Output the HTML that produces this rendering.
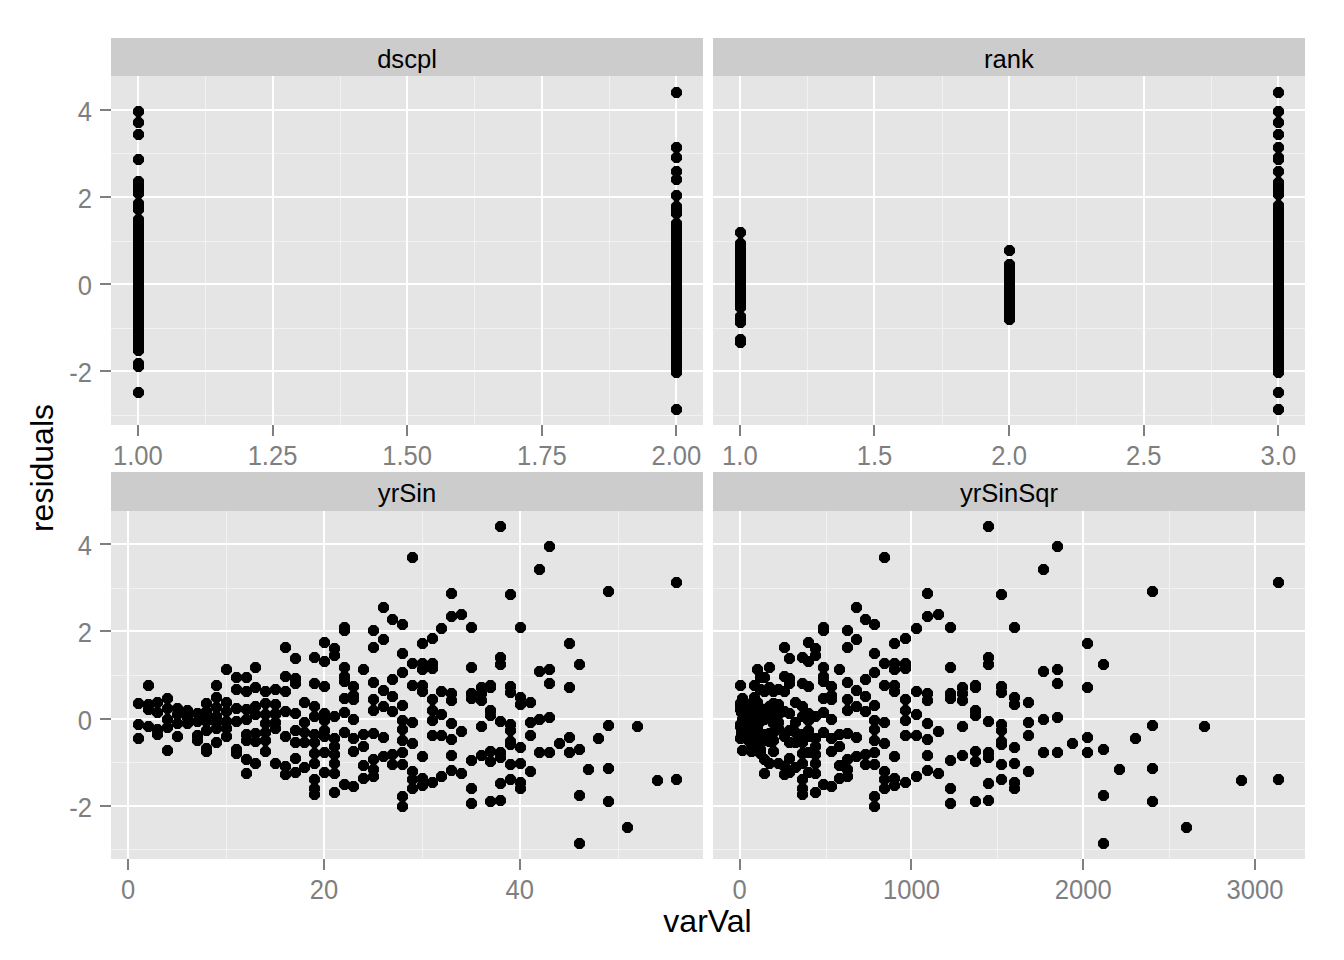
<!DOCTYPE html>
<html><head><meta charset="utf-8"><style>
html,body{margin:0;padding:0;background:#fff;width:1344px;height:960px;overflow:hidden}
svg text{font-family:"Liberation Sans",sans-serif}
</style></head><body>
<svg width="1344" height="960" viewBox="0 0 1344 960" style="display:block" shape-rendering="crispEdges"><defs><polygon id="o" points="5.500,2.278 2.278,5.500 -2.278,5.500 -5.500,2.278 -5.500,-2.278 -2.278,-5.500 2.278,-5.500 5.500,-2.278" shape-rendering="auto"/></defs><rect x="111" y="38" width="592" height="38" fill="#cccccc"/><text x="407.0" y="67.6" font-size="25.6" text-anchor="middle" fill="#000" shape-rendering="auto">dscpl</text><rect x="111" y="76" width="592" height="349" fill="#e5e5e5"/><rect x="111" y="415" width="592" height="1" fill="#f2f2f2"/><rect x="111" y="328" width="592" height="1" fill="#f2f2f2"/><rect x="111" y="241" width="592" height="1" fill="#f2f2f2"/><rect x="111" y="153" width="592" height="1" fill="#f2f2f2"/><rect x="205" y="76" width="1" height="349" fill="#f2f2f2"/><rect x="340" y="76" width="1" height="349" fill="#f2f2f2"/><rect x="474" y="76" width="1" height="349" fill="#f2f2f2"/><rect x="609" y="76" width="1" height="349" fill="#f2f2f2"/><rect x="111" y="370" width="592" height="2" fill="#fff"/><rect x="111" y="283" width="592" height="2" fill="#fff"/><rect x="111" y="196" width="592" height="2" fill="#fff"/><rect x="111" y="109" width="592" height="2" fill="#fff"/><rect x="137" y="76" width="2" height="349" fill="#fff"/><rect x="272" y="76" width="2" height="349" fill="#fff"/><rect x="406" y="76" width="2" height="349" fill="#fff"/><rect x="541" y="76" width="2" height="349" fill="#fff"/><rect x="675" y="76" width="2" height="349" fill="#fff"/><rect x="137" y="425" width="2" height="11" fill="#7f7f7f"/><text transform="translate(137.92 465.3) scale(0.955 1)" font-size="26.8" text-anchor="middle" fill="#7f7f7f">1.00</text><rect x="272" y="425" width="2" height="11" fill="#7f7f7f"/><text transform="translate(272.54 465.3) scale(0.955 1)" font-size="26.8" text-anchor="middle" fill="#7f7f7f">1.25</text><rect x="406" y="425" width="2" height="11" fill="#7f7f7f"/><text transform="translate(407.17 465.3) scale(0.955 1)" font-size="26.8" text-anchor="middle" fill="#7f7f7f">1.50</text><rect x="541" y="425" width="2" height="11" fill="#7f7f7f"/><text transform="translate(541.80 465.3) scale(0.955 1)" font-size="26.8" text-anchor="middle" fill="#7f7f7f">1.75</text><rect x="675" y="425" width="2" height="11" fill="#7f7f7f"/><text transform="translate(676.42 465.3) scale(0.955 1)" font-size="26.8" text-anchor="middle" fill="#7f7f7f">2.00</text><rect x="100" y="370" width="11" height="2" fill="#7f7f7f"/><text transform="translate(91.9 381.90) scale(0.955 1)" font-size="26.8" text-anchor="end" fill="#7f7f7f">-2</text><rect x="100" y="283" width="11" height="2" fill="#7f7f7f"/><text transform="translate(91.9 294.90) scale(0.955 1)" font-size="26.8" text-anchor="end" fill="#7f7f7f">0</text><rect x="100" y="196" width="11" height="2" fill="#7f7f7f"/><text transform="translate(91.9 207.90) scale(0.955 1)" font-size="26.8" text-anchor="end" fill="#7f7f7f">2</text><rect x="100" y="109" width="11" height="2" fill="#7f7f7f"/><text transform="translate(91.9 120.90) scale(0.955 1)" font-size="26.8" text-anchor="end" fill="#7f7f7f">4</text><rect x="713" y="38" width="592" height="38" fill="#cccccc"/><text x="1009.0" y="67.6" font-size="25.6" text-anchor="middle" fill="#000" shape-rendering="auto">rank</text><rect x="713" y="76" width="592" height="349" fill="#e5e5e5"/><rect x="713" y="415" width="592" height="1" fill="#f2f2f2"/><rect x="713" y="328" width="592" height="1" fill="#f2f2f2"/><rect x="713" y="241" width="592" height="1" fill="#f2f2f2"/><rect x="713" y="153" width="592" height="1" fill="#f2f2f2"/><rect x="807" y="76" width="1" height="349" fill="#f2f2f2"/><rect x="942" y="76" width="1" height="349" fill="#f2f2f2"/><rect x="1076" y="76" width="1" height="349" fill="#f2f2f2"/><rect x="1211" y="76" width="1" height="349" fill="#f2f2f2"/><rect x="713" y="370" width="592" height="2" fill="#fff"/><rect x="713" y="283" width="592" height="2" fill="#fff"/><rect x="713" y="196" width="592" height="2" fill="#fff"/><rect x="713" y="109" width="592" height="2" fill="#fff"/><rect x="739" y="76" width="2" height="349" fill="#fff"/><rect x="873" y="76" width="2" height="349" fill="#fff"/><rect x="1008" y="76" width="2" height="349" fill="#fff"/><rect x="1143" y="76" width="2" height="349" fill="#fff"/><rect x="1277" y="76" width="2" height="349" fill="#fff"/><rect x="739" y="425" width="2" height="11" fill="#7f7f7f"/><text transform="translate(739.83 465.3) scale(0.955 1)" font-size="26.8" text-anchor="middle" fill="#7f7f7f">1.0</text><rect x="873" y="425" width="2" height="11" fill="#7f7f7f"/><text transform="translate(874.45 465.3) scale(0.955 1)" font-size="26.8" text-anchor="middle" fill="#7f7f7f">1.5</text><rect x="1008" y="425" width="2" height="11" fill="#7f7f7f"/><text transform="translate(1009.08 465.3) scale(0.955 1)" font-size="26.8" text-anchor="middle" fill="#7f7f7f">2.0</text><rect x="1143" y="425" width="2" height="11" fill="#7f7f7f"/><text transform="translate(1143.71 465.3) scale(0.955 1)" font-size="26.8" text-anchor="middle" fill="#7f7f7f">2.5</text><rect x="1277" y="425" width="2" height="11" fill="#7f7f7f"/><text transform="translate(1278.33 465.3) scale(0.955 1)" font-size="26.8" text-anchor="middle" fill="#7f7f7f">3.0</text><rect x="111" y="472" width="592" height="39" fill="#cccccc"/><text x="407.0" y="501.6" font-size="25.6" text-anchor="middle" fill="#000" shape-rendering="auto">yrSin</text><rect x="111" y="511" width="592" height="348" fill="#e5e5e5"/><rect x="111" y="849" width="592" height="1" fill="#f2f2f2"/><rect x="111" y="762" width="592" height="1" fill="#f2f2f2"/><rect x="111" y="675" width="592" height="1" fill="#f2f2f2"/><rect x="111" y="588" width="592" height="1" fill="#f2f2f2"/><rect x="226" y="511" width="1" height="348" fill="#f2f2f2"/><rect x="422" y="511" width="1" height="348" fill="#f2f2f2"/><rect x="618" y="511" width="1" height="348" fill="#f2f2f2"/><rect x="111" y="805" width="592" height="2" fill="#fff"/><rect x="111" y="718" width="592" height="2" fill="#fff"/><rect x="111" y="630" width="592" height="2" fill="#fff"/><rect x="111" y="543" width="592" height="2" fill="#fff"/><rect x="127" y="511" width="2" height="348" fill="#fff"/><rect x="323" y="511" width="2" height="348" fill="#fff"/><rect x="519" y="511" width="2" height="348" fill="#fff"/><rect x="127" y="859" width="2" height="11" fill="#7f7f7f"/><text transform="translate(128.12 899.3) scale(0.955 1)" font-size="26.8" text-anchor="middle" fill="#7f7f7f">0</text><rect x="323" y="859" width="2" height="11" fill="#7f7f7f"/><text transform="translate(323.95 899.3) scale(0.955 1)" font-size="26.8" text-anchor="middle" fill="#7f7f7f">20</text><rect x="519" y="859" width="2" height="11" fill="#7f7f7f"/><text transform="translate(519.77 899.3) scale(0.955 1)" font-size="26.8" text-anchor="middle" fill="#7f7f7f">40</text><rect x="100" y="805" width="11" height="2" fill="#7f7f7f"/><text transform="translate(91.9 816.90) scale(0.955 1)" font-size="26.8" text-anchor="end" fill="#7f7f7f">-2</text><rect x="100" y="718" width="11" height="2" fill="#7f7f7f"/><text transform="translate(91.9 729.90) scale(0.955 1)" font-size="26.8" text-anchor="end" fill="#7f7f7f">0</text><rect x="100" y="630" width="11" height="2" fill="#7f7f7f"/><text transform="translate(91.9 641.90) scale(0.955 1)" font-size="26.8" text-anchor="end" fill="#7f7f7f">2</text><rect x="100" y="543" width="11" height="2" fill="#7f7f7f"/><text transform="translate(91.9 554.90) scale(0.955 1)" font-size="26.8" text-anchor="end" fill="#7f7f7f">4</text><rect x="713" y="472" width="592" height="39" fill="#cccccc"/><text x="1009.0" y="501.6" font-size="25.6" text-anchor="middle" fill="#000" shape-rendering="auto">yrSinSqr</text><rect x="713" y="511" width="592" height="348" fill="#e5e5e5"/><rect x="713" y="849" width="592" height="1" fill="#f2f2f2"/><rect x="713" y="762" width="592" height="1" fill="#f2f2f2"/><rect x="713" y="675" width="592" height="1" fill="#f2f2f2"/><rect x="713" y="588" width="592" height="1" fill="#f2f2f2"/><rect x="826" y="511" width="1" height="348" fill="#f2f2f2"/><rect x="997" y="511" width="1" height="348" fill="#f2f2f2"/><rect x="1169" y="511" width="1" height="348" fill="#f2f2f2"/><rect x="713" y="805" width="592" height="2" fill="#fff"/><rect x="713" y="718" width="592" height="2" fill="#fff"/><rect x="713" y="630" width="592" height="2" fill="#fff"/><rect x="713" y="543" width="592" height="2" fill="#fff"/><rect x="739" y="511" width="2" height="348" fill="#fff"/><rect x="910" y="511" width="2" height="348" fill="#fff"/><rect x="1082" y="511" width="2" height="348" fill="#fff"/><rect x="1254" y="511" width="2" height="348" fill="#fff"/><rect x="739" y="859" width="2" height="11" fill="#7f7f7f"/><text transform="translate(739.65 899.3) scale(0.955 1)" font-size="26.8" text-anchor="middle" fill="#7f7f7f">0</text><rect x="910" y="859" width="2" height="11" fill="#7f7f7f"/><text transform="translate(911.43 899.3) scale(0.955 1)" font-size="26.8" text-anchor="middle" fill="#7f7f7f">1000</text><rect x="1082" y="859" width="2" height="11" fill="#7f7f7f"/><text transform="translate(1083.20 899.3) scale(0.955 1)" font-size="26.8" text-anchor="middle" fill="#7f7f7f">2000</text><rect x="1254" y="859" width="2" height="11" fill="#7f7f7f"/><text transform="translate(1254.97 899.3) scale(0.955 1)" font-size="26.8" text-anchor="middle" fill="#7f7f7f">3000</text><g fill="#000"><use href="#o" x="138.5" y="703.5"/><use href="#o" x="740.5" y="703.5"/><use href="#o" x="148.5" y="685.5"/><use href="#o" x="740.5" y="685.5"/><use href="#o" x="148.5" y="704.5"/><use href="#o" x="740.5" y="704.5"/><use href="#o" x="216.5" y="685.5"/><use href="#o" x="754.5" y="685.5"/><use href="#o" x="216.5" y="697.5"/><use href="#o" x="754.5" y="697.5"/><use href="#o" x="226.5" y="669.5"/><use href="#o" x="757.5" y="669.5"/><use href="#o" x="236.5" y="677.5"/><use href="#o" x="760.5" y="677.5"/><use href="#o" x="246.5" y="677.5"/><use href="#o" x="764.5" y="677.5"/><use href="#o" x="236.5" y="689.5"/><use href="#o" x="760.5" y="689.5"/><use href="#o" x="246.5" y="691.5"/><use href="#o" x="764.5" y="691.5"/><use href="#o" x="255.5" y="667.5"/><use href="#o" x="769.5" y="667.5"/><use href="#o" x="255.5" y="687.5"/><use href="#o" x="769.5" y="687.5"/><use href="#o" x="265.5" y="691.5"/><use href="#o" x="773.5" y="691.5"/><use href="#o" x="275.5" y="689.5"/><use href="#o" x="778.5" y="689.5"/><use href="#o" x="285.5" y="647.5"/><use href="#o" x="784.5" y="647.5"/><use href="#o" x="285.5" y="676.5"/><use href="#o" x="784.5" y="676.5"/><use href="#o" x="285.5" y="691.5"/><use href="#o" x="784.5" y="691.5"/><use href="#o" x="295.5" y="658.5"/><use href="#o" x="789.5" y="658.5"/><use href="#o" x="295.5" y="678.5"/><use href="#o" x="789.5" y="678.5"/><use href="#o" x="295.5" y="683.5"/><use href="#o" x="789.5" y="683.5"/><use href="#o" x="314.5" y="657.5"/><use href="#o" x="802.5" y="657.5"/><use href="#o" x="314.5" y="683.5"/><use href="#o" x="802.5" y="683.5"/><use href="#o" x="324.5" y="642.5"/><use href="#o" x="808.5" y="642.5"/><use href="#o" x="324.5" y="661.5"/><use href="#o" x="808.5" y="661.5"/><use href="#o" x="324.5" y="686.5"/><use href="#o" x="808.5" y="686.5"/><use href="#o" x="334.5" y="648.5"/><use href="#o" x="815.5" y="648.5"/><use href="#o" x="334.5" y="655.5"/><use href="#o" x="815.5" y="655.5"/><use href="#o" x="344.5" y="627.5"/><use href="#o" x="823.5" y="627.5"/><use href="#o" x="344.5" y="630.5"/><use href="#o" x="823.5" y="630.5"/><use href="#o" x="344.5" y="667.5"/><use href="#o" x="823.5" y="667.5"/><use href="#o" x="344.5" y="676.5"/><use href="#o" x="823.5" y="676.5"/><use href="#o" x="344.5" y="681.5"/><use href="#o" x="823.5" y="681.5"/><use href="#o" x="353.5" y="686.5"/><use href="#o" x="831.5" y="686.5"/><use href="#o" x="363.5" y="669.5"/><use href="#o" x="839.5" y="669.5"/><use href="#o" x="373.5" y="630.5"/><use href="#o" x="847.5" y="630.5"/><use href="#o" x="373.5" y="647.5"/><use href="#o" x="847.5" y="647.5"/><use href="#o" x="373.5" y="682.5"/><use href="#o" x="847.5" y="682.5"/><use href="#o" x="383.5" y="607.5"/><use href="#o" x="856.5" y="607.5"/><use href="#o" x="383.5" y="639.5"/><use href="#o" x="856.5" y="639.5"/><use href="#o" x="383.5" y="690.5"/><use href="#o" x="856.5" y="690.5"/><use href="#o" x="392.5" y="619.5"/><use href="#o" x="865.5" y="619.5"/><use href="#o" x="392.5" y="679.5"/><use href="#o" x="865.5" y="679.5"/><use href="#o" x="402.5" y="624.5"/><use href="#o" x="874.5" y="624.5"/><use href="#o" x="402.5" y="653.5"/><use href="#o" x="874.5" y="653.5"/><use href="#o" x="402.5" y="672.5"/><use href="#o" x="874.5" y="672.5"/><use href="#o" x="138.5" y="724.5"/><use href="#o" x="740.5" y="724.5"/><use href="#o" x="138.5" y="738.5"/><use href="#o" x="740.5" y="738.5"/><use href="#o" x="148.5" y="709.5"/><use href="#o" x="740.5" y="709.5"/><use href="#o" x="148.5" y="726.5"/><use href="#o" x="740.5" y="726.5"/><use href="#o" x="157.5" y="702.5"/><use href="#o" x="741.5" y="702.5"/><use href="#o" x="157.5" y="712.5"/><use href="#o" x="741.5" y="712.5"/><use href="#o" x="157.5" y="734.5"/><use href="#o" x="741.5" y="734.5"/><use href="#o" x="167.5" y="698.5"/><use href="#o" x="742.5" y="698.5"/><use href="#o" x="167.5" y="708.5"/><use href="#o" x="742.5" y="708.5"/><use href="#o" x="167.5" y="719.5"/><use href="#o" x="742.5" y="719.5"/><use href="#o" x="167.5" y="727.5"/><use href="#o" x="742.5" y="727.5"/><use href="#o" x="167.5" y="750.5"/><use href="#o" x="742.5" y="750.5"/><use href="#o" x="177.5" y="708.5"/><use href="#o" x="744.5" y="708.5"/><use href="#o" x="177.5" y="723.5"/><use href="#o" x="744.5" y="723.5"/><use href="#o" x="177.5" y="736.5"/><use href="#o" x="744.5" y="736.5"/><use href="#o" x="187.5" y="710.5"/><use href="#o" x="746.5" y="710.5"/><use href="#o" x="187.5" y="723.5"/><use href="#o" x="746.5" y="723.5"/><use href="#o" x="197.5" y="713.5"/><use href="#o" x="748.5" y="713.5"/><use href="#o" x="197.5" y="721.5"/><use href="#o" x="748.5" y="721.5"/><use href="#o" x="197.5" y="735.5"/><use href="#o" x="748.5" y="735.5"/><use href="#o" x="197.5" y="740.5"/><use href="#o" x="748.5" y="740.5"/><use href="#o" x="206.5" y="703.5"/><use href="#o" x="751.5" y="703.5"/><use href="#o" x="206.5" y="711.5"/><use href="#o" x="751.5" y="711.5"/><use href="#o" x="206.5" y="721.5"/><use href="#o" x="751.5" y="721.5"/><use href="#o" x="206.5" y="730.5"/><use href="#o" x="751.5" y="730.5"/><use href="#o" x="206.5" y="748.5"/><use href="#o" x="751.5" y="748.5"/><use href="#o" x="216.5" y="707.5"/><use href="#o" x="754.5" y="707.5"/><use href="#o" x="216.5" y="716.5"/><use href="#o" x="754.5" y="716.5"/><use href="#o" x="216.5" y="728.5"/><use href="#o" x="754.5" y="728.5"/><use href="#o" x="216.5" y="742.5"/><use href="#o" x="754.5" y="742.5"/><use href="#o" x="226.5" y="702.5"/><use href="#o" x="757.5" y="702.5"/><use href="#o" x="226.5" y="711.5"/><use href="#o" x="757.5" y="711.5"/><use href="#o" x="226.5" y="721.5"/><use href="#o" x="757.5" y="721.5"/><use href="#o" x="226.5" y="728.5"/><use href="#o" x="757.5" y="728.5"/><use href="#o" x="226.5" y="736.5"/><use href="#o" x="757.5" y="736.5"/><use href="#o" x="236.5" y="708.5"/><use href="#o" x="760.5" y="708.5"/><use href="#o" x="236.5" y="721.5"/><use href="#o" x="760.5" y="721.5"/><use href="#o" x="236.5" y="749.5"/><use href="#o" x="760.5" y="749.5"/><use href="#o" x="236.5" y="753.5"/><use href="#o" x="760.5" y="753.5"/><use href="#o" x="246.5" y="709.5"/><use href="#o" x="764.5" y="709.5"/><use href="#o" x="246.5" y="719.5"/><use href="#o" x="764.5" y="719.5"/><use href="#o" x="246.5" y="734.5"/><use href="#o" x="764.5" y="734.5"/><use href="#o" x="246.5" y="740.5"/><use href="#o" x="764.5" y="740.5"/><use href="#o" x="246.5" y="759.5"/><use href="#o" x="764.5" y="759.5"/><use href="#o" x="246.5" y="773.5"/><use href="#o" x="764.5" y="773.5"/><use href="#o" x="255.5" y="706.5"/><use href="#o" x="769.5" y="706.5"/><use href="#o" x="255.5" y="714.5"/><use href="#o" x="769.5" y="714.5"/><use href="#o" x="255.5" y="733.5"/><use href="#o" x="769.5" y="733.5"/><use href="#o" x="255.5" y="741.5"/><use href="#o" x="769.5" y="741.5"/><use href="#o" x="255.5" y="763.5"/><use href="#o" x="769.5" y="763.5"/><use href="#o" x="265.5" y="703.5"/><use href="#o" x="773.5" y="703.5"/><use href="#o" x="265.5" y="714.5"/><use href="#o" x="773.5" y="714.5"/><use href="#o" x="265.5" y="723.5"/><use href="#o" x="773.5" y="723.5"/><use href="#o" x="265.5" y="732.5"/><use href="#o" x="773.5" y="732.5"/><use href="#o" x="265.5" y="740.5"/><use href="#o" x="773.5" y="740.5"/><use href="#o" x="265.5" y="751.5"/><use href="#o" x="773.5" y="751.5"/><use href="#o" x="275.5" y="704.5"/><use href="#o" x="778.5" y="704.5"/><use href="#o" x="275.5" y="713.5"/><use href="#o" x="778.5" y="713.5"/><use href="#o" x="275.5" y="728.5"/><use href="#o" x="778.5" y="728.5"/><use href="#o" x="275.5" y="763.5"/><use href="#o" x="778.5" y="763.5"/><use href="#o" x="285.5" y="711.5"/><use href="#o" x="784.5" y="711.5"/><use href="#o" x="285.5" y="736.5"/><use href="#o" x="784.5" y="736.5"/><use href="#o" x="285.5" y="766.5"/><use href="#o" x="784.5" y="766.5"/><use href="#o" x="285.5" y="774.5"/><use href="#o" x="784.5" y="774.5"/><use href="#o" x="295.5" y="713.5"/><use href="#o" x="789.5" y="713.5"/><use href="#o" x="295.5" y="730.5"/><use href="#o" x="789.5" y="730.5"/><use href="#o" x="295.5" y="742.5"/><use href="#o" x="789.5" y="742.5"/><use href="#o" x="295.5" y="758.5"/><use href="#o" x="789.5" y="758.5"/><use href="#o" x="295.5" y="772.5"/><use href="#o" x="789.5" y="772.5"/><use href="#o" x="304.5" y="702.5"/><use href="#o" x="795.5" y="702.5"/><use href="#o" x="304.5" y="722.5"/><use href="#o" x="795.5" y="722.5"/><use href="#o" x="304.5" y="732.5"/><use href="#o" x="795.5" y="732.5"/><use href="#o" x="304.5" y="742.5"/><use href="#o" x="795.5" y="742.5"/><use href="#o" x="304.5" y="767.5"/><use href="#o" x="795.5" y="767.5"/><use href="#o" x="314.5" y="706.5"/><use href="#o" x="802.5" y="706.5"/><use href="#o" x="314.5" y="716.5"/><use href="#o" x="802.5" y="716.5"/><use href="#o" x="314.5" y="734.5"/><use href="#o" x="802.5" y="734.5"/><use href="#o" x="314.5" y="742.5"/><use href="#o" x="802.5" y="742.5"/><use href="#o" x="314.5" y="753.5"/><use href="#o" x="802.5" y="753.5"/><use href="#o" x="314.5" y="763.5"/><use href="#o" x="802.5" y="763.5"/><use href="#o" x="314.5" y="779.5"/><use href="#o" x="802.5" y="779.5"/><use href="#o" x="324.5" y="713.5"/><use href="#o" x="808.5" y="713.5"/><use href="#o" x="324.5" y="720.5"/><use href="#o" x="808.5" y="720.5"/><use href="#o" x="324.5" y="730.5"/><use href="#o" x="808.5" y="730.5"/><use href="#o" x="324.5" y="736.5"/><use href="#o" x="808.5" y="736.5"/><use href="#o" x="324.5" y="752.5"/><use href="#o" x="808.5" y="752.5"/><use href="#o" x="324.5" y="772.5"/><use href="#o" x="808.5" y="772.5"/><use href="#o" x="334.5" y="716.5"/><use href="#o" x="815.5" y="716.5"/><use href="#o" x="334.5" y="738.5"/><use href="#o" x="815.5" y="738.5"/><use href="#o" x="334.5" y="746.5"/><use href="#o" x="815.5" y="746.5"/><use href="#o" x="334.5" y="754.5"/><use href="#o" x="815.5" y="754.5"/><use href="#o" x="334.5" y="763.5"/><use href="#o" x="815.5" y="763.5"/><use href="#o" x="334.5" y="773.5"/><use href="#o" x="815.5" y="773.5"/><use href="#o" x="344.5" y="698.5"/><use href="#o" x="823.5" y="698.5"/><use href="#o" x="344.5" y="712.5"/><use href="#o" x="823.5" y="712.5"/><use href="#o" x="344.5" y="732.5"/><use href="#o" x="823.5" y="732.5"/><use href="#o" x="353.5" y="695.5"/><use href="#o" x="831.5" y="695.5"/><use href="#o" x="353.5" y="699.5"/><use href="#o" x="831.5" y="699.5"/><use href="#o" x="353.5" y="719.5"/><use href="#o" x="831.5" y="719.5"/><use href="#o" x="353.5" y="738.5"/><use href="#o" x="831.5" y="738.5"/><use href="#o" x="353.5" y="751.5"/><use href="#o" x="831.5" y="751.5"/><use href="#o" x="363.5" y="734.5"/><use href="#o" x="839.5" y="734.5"/><use href="#o" x="363.5" y="746.5"/><use href="#o" x="839.5" y="746.5"/><use href="#o" x="363.5" y="765.5"/><use href="#o" x="839.5" y="765.5"/><use href="#o" x="363.5" y="778.5"/><use href="#o" x="839.5" y="778.5"/><use href="#o" x="373.5" y="699.5"/><use href="#o" x="847.5" y="699.5"/><use href="#o" x="373.5" y="710.5"/><use href="#o" x="847.5" y="710.5"/><use href="#o" x="373.5" y="733.5"/><use href="#o" x="847.5" y="733.5"/><use href="#o" x="373.5" y="759.5"/><use href="#o" x="847.5" y="759.5"/><use href="#o" x="373.5" y="769.5"/><use href="#o" x="847.5" y="769.5"/><use href="#o" x="373.5" y="776.5"/><use href="#o" x="847.5" y="776.5"/><use href="#o" x="383.5" y="706.5"/><use href="#o" x="856.5" y="706.5"/><use href="#o" x="383.5" y="737.5"/><use href="#o" x="856.5" y="737.5"/><use href="#o" x="383.5" y="756.5"/><use href="#o" x="856.5" y="756.5"/><use href="#o" x="392.5" y="696.5"/><use href="#o" x="865.5" y="696.5"/><use href="#o" x="392.5" y="711.5"/><use href="#o" x="865.5" y="711.5"/><use href="#o" x="392.5" y="754.5"/><use href="#o" x="865.5" y="754.5"/><use href="#o" x="392.5" y="764.5"/><use href="#o" x="865.5" y="764.5"/><use href="#o" x="314.5" y="788.5"/><use href="#o" x="802.5" y="788.5"/><use href="#o" x="314.5" y="794.5"/><use href="#o" x="802.5" y="794.5"/><use href="#o" x="334.5" y="792.5"/><use href="#o" x="815.5" y="792.5"/><use href="#o" x="344.5" y="784.5"/><use href="#o" x="823.5" y="784.5"/><use href="#o" x="353.5" y="786.5"/><use href="#o" x="831.5" y="786.5"/><use href="#o" x="402.5" y="764.5"/><use href="#o" x="874.5" y="764.5"/><use href="#o" x="402.5" y="796.5"/><use href="#o" x="874.5" y="796.5"/><use href="#o" x="402.5" y="806.5"/><use href="#o" x="874.5" y="806.5"/><use href="#o" x="500.5" y="526.5"/><use href="#o" x="988.5" y="526.5"/><use href="#o" x="412.5" y="557.5"/><use href="#o" x="884.5" y="557.5"/><use href="#o" x="549.5" y="546.5"/><use href="#o" x="1057.5" y="546.5"/><use href="#o" x="539.5" y="569.5"/><use href="#o" x="1043.5" y="569.5"/><use href="#o" x="451.5" y="593.5"/><use href="#o" x="927.5" y="593.5"/><use href="#o" x="510.5" y="594.5"/><use href="#o" x="1001.5" y="594.5"/><use href="#o" x="608.5" y="591.5"/><use href="#o" x="1152.5" y="591.5"/><use href="#o" x="676.5" y="582.5"/><use href="#o" x="1278.5" y="582.5"/><use href="#o" x="451.5" y="616.5"/><use href="#o" x="927.5" y="616.5"/><use href="#o" x="461.5" y="614.5"/><use href="#o" x="938.5" y="614.5"/><use href="#o" x="441.5" y="628.5"/><use href="#o" x="916.5" y="628.5"/><use href="#o" x="471.5" y="627.5"/><use href="#o" x="950.5" y="627.5"/><use href="#o" x="520.5" y="627.5"/><use href="#o" x="1014.5" y="627.5"/><use href="#o" x="432.5" y="638.5"/><use href="#o" x="905.5" y="638.5"/><use href="#o" x="422.5" y="643.5"/><use href="#o" x="894.5" y="643.5"/><use href="#o" x="569.5" y="643.5"/><use href="#o" x="1087.5" y="643.5"/><use href="#o" x="412.5" y="663.5"/><use href="#o" x="884.5" y="663.5"/><use href="#o" x="422.5" y="663.5"/><use href="#o" x="894.5" y="663.5"/><use href="#o" x="422.5" y="669.5"/><use href="#o" x="894.5" y="669.5"/><use href="#o" x="432.5" y="663.5"/><use href="#o" x="905.5" y="663.5"/><use href="#o" x="432.5" y="668.5"/><use href="#o" x="905.5" y="668.5"/><use href="#o" x="471.5" y="667.5"/><use href="#o" x="950.5" y="667.5"/><use href="#o" x="500.5" y="657.5"/><use href="#o" x="988.5" y="657.5"/><use href="#o" x="500.5" y="664.5"/><use href="#o" x="988.5" y="664.5"/><use href="#o" x="539.5" y="671.5"/><use href="#o" x="1043.5" y="671.5"/><use href="#o" x="549.5" y="669.5"/><use href="#o" x="1057.5" y="669.5"/><use href="#o" x="579.5" y="664.5"/><use href="#o" x="1103.5" y="664.5"/><use href="#o" x="412.5" y="685.5"/><use href="#o" x="884.5" y="685.5"/><use href="#o" x="422.5" y="685.5"/><use href="#o" x="894.5" y="685.5"/><use href="#o" x="422.5" y="691.5"/><use href="#o" x="894.5" y="691.5"/><use href="#o" x="441.5" y="691.5"/><use href="#o" x="916.5" y="691.5"/><use href="#o" x="451.5" y="693.5"/><use href="#o" x="927.5" y="693.5"/><use href="#o" x="451.5" y="700.5"/><use href="#o" x="927.5" y="700.5"/><use href="#o" x="432.5" y="699.5"/><use href="#o" x="905.5" y="699.5"/><use href="#o" x="471.5" y="693.5"/><use href="#o" x="950.5" y="693.5"/><use href="#o" x="471.5" y="698.5"/><use href="#o" x="950.5" y="698.5"/><use href="#o" x="481.5" y="687.5"/><use href="#o" x="962.5" y="687.5"/><use href="#o" x="481.5" y="700.5"/><use href="#o" x="962.5" y="700.5"/><use href="#o" x="510.5" y="686.5"/><use href="#o" x="1001.5" y="686.5"/><use href="#o" x="510.5" y="692.5"/><use href="#o" x="1001.5" y="692.5"/><use href="#o" x="520.5" y="697.5"/><use href="#o" x="1014.5" y="697.5"/><use href="#o" x="520.5" y="704.5"/><use href="#o" x="1014.5" y="704.5"/><use href="#o" x="530.5" y="702.5"/><use href="#o" x="1028.5" y="702.5"/><use href="#o" x="549.5" y="683.5"/><use href="#o" x="1057.5" y="683.5"/><use href="#o" x="569.5" y="687.5"/><use href="#o" x="1087.5" y="687.5"/><use href="#o" x="402.5" y="705.5"/><use href="#o" x="874.5" y="705.5"/><use href="#o" x="402.5" y="720.5"/><use href="#o" x="874.5" y="720.5"/><use href="#o" x="402.5" y="729.5"/><use href="#o" x="874.5" y="729.5"/><use href="#o" x="402.5" y="740.5"/><use href="#o" x="874.5" y="740.5"/><use href="#o" x="402.5" y="752.5"/><use href="#o" x="874.5" y="752.5"/><use href="#o" x="412.5" y="722.5"/><use href="#o" x="884.5" y="722.5"/><use href="#o" x="412.5" y="743.5"/><use href="#o" x="884.5" y="743.5"/><use href="#o" x="412.5" y="771.5"/><use href="#o" x="884.5" y="771.5"/><use href="#o" x="412.5" y="779.5"/><use href="#o" x="884.5" y="779.5"/><use href="#o" x="412.5" y="788.5"/><use href="#o" x="884.5" y="788.5"/><use href="#o" x="422.5" y="756.5"/><use href="#o" x="894.5" y="756.5"/><use href="#o" x="422.5" y="778.5"/><use href="#o" x="894.5" y="778.5"/><use href="#o" x="422.5" y="785.5"/><use href="#o" x="894.5" y="785.5"/><use href="#o" x="432.5" y="710.5"/><use href="#o" x="905.5" y="710.5"/><use href="#o" x="432.5" y="720.5"/><use href="#o" x="905.5" y="720.5"/><use href="#o" x="432.5" y="735.5"/><use href="#o" x="905.5" y="735.5"/><use href="#o" x="432.5" y="782.5"/><use href="#o" x="905.5" y="782.5"/><use href="#o" x="441.5" y="714.5"/><use href="#o" x="916.5" y="714.5"/><use href="#o" x="441.5" y="735.5"/><use href="#o" x="916.5" y="735.5"/><use href="#o" x="441.5" y="776.5"/><use href="#o" x="916.5" y="776.5"/><use href="#o" x="451.5" y="723.5"/><use href="#o" x="927.5" y="723.5"/><use href="#o" x="451.5" y="739.5"/><use href="#o" x="927.5" y="739.5"/><use href="#o" x="451.5" y="755.5"/><use href="#o" x="927.5" y="755.5"/><use href="#o" x="451.5" y="770.5"/><use href="#o" x="927.5" y="770.5"/><use href="#o" x="461.5" y="731.5"/><use href="#o" x="938.5" y="731.5"/><use href="#o" x="461.5" y="773.5"/><use href="#o" x="938.5" y="773.5"/><use href="#o" x="471.5" y="760.5"/><use href="#o" x="950.5" y="760.5"/><use href="#o" x="471.5" y="788.5"/><use href="#o" x="950.5" y="788.5"/><use href="#o" x="481.5" y="693.5"/><use href="#o" x="962.5" y="693.5"/><use href="#o" x="481.5" y="726.5"/><use href="#o" x="962.5" y="726.5"/><use href="#o" x="481.5" y="755.5"/><use href="#o" x="962.5" y="755.5"/><use href="#o" x="490.5" y="710.5"/><use href="#o" x="975.5" y="710.5"/><use href="#o" x="490.5" y="715.5"/><use href="#o" x="975.5" y="715.5"/><use href="#o" x="490.5" y="751.5"/><use href="#o" x="975.5" y="751.5"/><use href="#o" x="490.5" y="761.5"/><use href="#o" x="975.5" y="761.5"/><use href="#o" x="500.5" y="721.5"/><use href="#o" x="988.5" y="721.5"/><use href="#o" x="500.5" y="752.5"/><use href="#o" x="988.5" y="752.5"/><use href="#o" x="500.5" y="757.5"/><use href="#o" x="988.5" y="757.5"/><use href="#o" x="500.5" y="783.5"/><use href="#o" x="988.5" y="783.5"/><use href="#o" x="510.5" y="724.5"/><use href="#o" x="1001.5" y="724.5"/><use href="#o" x="510.5" y="730.5"/><use href="#o" x="1001.5" y="730.5"/><use href="#o" x="510.5" y="741.5"/><use href="#o" x="1001.5" y="741.5"/><use href="#o" x="510.5" y="764.5"/><use href="#o" x="1001.5" y="764.5"/><use href="#o" x="510.5" y="779.5"/><use href="#o" x="1001.5" y="779.5"/><use href="#o" x="520.5" y="747.5"/><use href="#o" x="1014.5" y="747.5"/><use href="#o" x="520.5" y="763.5"/><use href="#o" x="1014.5" y="763.5"/><use href="#o" x="520.5" y="782.5"/><use href="#o" x="1014.5" y="782.5"/><use href="#o" x="520.5" y="788.5"/><use href="#o" x="1014.5" y="788.5"/><use href="#o" x="530.5" y="722.5"/><use href="#o" x="1028.5" y="722.5"/><use href="#o" x="530.5" y="735.5"/><use href="#o" x="1028.5" y="735.5"/><use href="#o" x="530.5" y="771.5"/><use href="#o" x="1028.5" y="771.5"/><use href="#o" x="471.5" y="803.5"/><use href="#o" x="950.5" y="803.5"/><use href="#o" x="490.5" y="801.5"/><use href="#o" x="975.5" y="801.5"/><use href="#o" x="500.5" y="800.5"/><use href="#o" x="988.5" y="800.5"/><use href="#o" x="579.5" y="795.5"/><use href="#o" x="1103.5" y="795.5"/><use href="#o" x="579.5" y="843.5"/><use href="#o" x="1103.5" y="843.5"/><use href="#o" x="588.5" y="769.5"/><use href="#o" x="1119.5" y="769.5"/><use href="#o" x="608.5" y="768.5"/><use href="#o" x="1152.5" y="768.5"/><use href="#o" x="608.5" y="801.5"/><use href="#o" x="1152.5" y="801.5"/><use href="#o" x="627.5" y="827.5"/><use href="#o" x="1186.5" y="827.5"/><use href="#o" x="657.5" y="780.5"/><use href="#o" x="1241.5" y="780.5"/><use href="#o" x="676.5" y="779.5"/><use href="#o" x="1278.5" y="779.5"/><use href="#o" x="539.5" y="719.5"/><use href="#o" x="1043.5" y="719.5"/><use href="#o" x="549.5" y="717.5"/><use href="#o" x="1057.5" y="717.5"/><use href="#o" x="608.5" y="725.5"/><use href="#o" x="1152.5" y="725.5"/><use href="#o" x="637.5" y="726.5"/><use href="#o" x="1204.5" y="726.5"/><use href="#o" x="569.5" y="737.5"/><use href="#o" x="1087.5" y="737.5"/><use href="#o" x="559.5" y="743.5"/><use href="#o" x="1072.5" y="743.5"/><use href="#o" x="598.5" y="738.5"/><use href="#o" x="1135.5" y="738.5"/><use href="#o" x="539.5" y="752.5"/><use href="#o" x="1043.5" y="752.5"/><use href="#o" x="549.5" y="752.5"/><use href="#o" x="1057.5" y="752.5"/><use href="#o" x="569.5" y="752.5"/><use href="#o" x="1087.5" y="752.5"/><use href="#o" x="579.5" y="749.5"/><use href="#o" x="1103.5" y="749.5"/><use href="#o" x="157.5" y="729.5"/><use href="#o" x="741.5" y="729.5"/><use href="#o" x="177.5" y="714.5"/><use href="#o" x="744.5" y="714.5"/><use href="#o" x="187.5" y="717.5"/><use href="#o" x="746.5" y="717.5"/><use href="#o" x="206.5" y="716.5"/><use href="#o" x="751.5" y="716.5"/><use href="#o" x="216.5" y="722.5"/><use href="#o" x="754.5" y="722.5"/><use href="#o" x="206.5" y="751.5"/><use href="#o" x="751.5" y="751.5"/><use href="#o" x="275.5" y="714.5"/><use href="#o" x="778.5" y="714.5"/><use href="#o" x="275.5" y="722.5"/><use href="#o" x="778.5" y="722.5"/><use href="#o" x="490.5" y="685.5"/><use href="#o" x="975.5" y="685.5"/><use href="#o" x="490.5" y="687.5"/><use href="#o" x="975.5" y="687.5"/><use href="#o" x="510.5" y="744.5"/><use href="#o" x="1001.5" y="744.5"/><use href="#o" x="138.5" y="111.5"/><use href="#o" x="138.5" y="122.5"/><use href="#o" x="138.5" y="134.5"/><use href="#o" x="138.5" y="159.5"/><use href="#o" x="138.5" y="181.5"/><use href="#o" x="138.5" y="193.5"/><rect x="133" y="181.5" width="11" height="12.0"/><use href="#o" x="138.5" y="203.5"/><use href="#o" x="138.5" y="209.5"/><rect x="133" y="203.5" width="11" height="6.0"/><use href="#o" x="138.5" y="219.5"/><use href="#o" x="138.5" y="350.5"/><rect x="133" y="219.5" width="11" height="131.0"/><use href="#o" x="138.5" y="363.5"/><use href="#o" x="138.5" y="366.5"/><rect x="133" y="363.5" width="11" height="3.0"/><use href="#o" x="138.5" y="392.5"/><use href="#o" x="676.5" y="92.5"/><use href="#o" x="676.5" y="147.5"/><use href="#o" x="676.5" y="157.5"/><use href="#o" x="676.5" y="171.5"/><use href="#o" x="676.5" y="179.5"/><use href="#o" x="676.5" y="195.5"/><use href="#o" x="676.5" y="206.5"/><use href="#o" x="676.5" y="213.5"/><rect x="671" y="206.5" width="11" height="7.0"/><use href="#o" x="676.5" y="223.5"/><use href="#o" x="676.5" y="372.5"/><rect x="671" y="223.5" width="11" height="149.0"/><use href="#o" x="676.5" y="409.5"/><use href="#o" x="740.5" y="232.5"/><use href="#o" x="740.5" y="243.5"/><use href="#o" x="740.5" y="307.5"/><rect x="735" y="243.5" width="11" height="64.0"/><use href="#o" x="740.5" y="316.5"/><use href="#o" x="740.5" y="322.5"/><rect x="735" y="316.5" width="11" height="6.0"/><use href="#o" x="740.5" y="339.5"/><use href="#o" x="740.5" y="342.5"/><use href="#o" x="1009.5" y="250.5"/><use href="#o" x="1009.5" y="264.5"/><use href="#o" x="1009.5" y="319.5"/><rect x="1004" y="264.5" width="11" height="55.0"/><use href="#o" x="1278.5" y="92.5"/><use href="#o" x="1278.5" y="111.5"/><use href="#o" x="1278.5" y="122.5"/><use href="#o" x="1278.5" y="134.5"/><use href="#o" x="1278.5" y="147.5"/><use href="#o" x="1278.5" y="157.5"/><use href="#o" x="1278.5" y="159.5"/><use href="#o" x="1278.5" y="171.5"/><use href="#o" x="1278.5" y="182.5"/><use href="#o" x="1278.5" y="194.5"/><rect x="1273" y="182.5" width="11" height="12.0"/><use href="#o" x="1278.5" y="205.5"/><use href="#o" x="1278.5" y="372.5"/><rect x="1273" y="205.5" width="11" height="167.0"/><use href="#o" x="1278.5" y="392.5"/><use href="#o" x="1278.5" y="409.5"/></g><text x="707.5" y="931.6" font-size="32" text-anchor="middle" fill="#000" shape-rendering="auto">varVal</text><text transform="translate(53.2,468) rotate(-90)" font-size="32" text-anchor="middle" fill="#000" shape-rendering="auto">residuals</text></svg>
</body></html>
